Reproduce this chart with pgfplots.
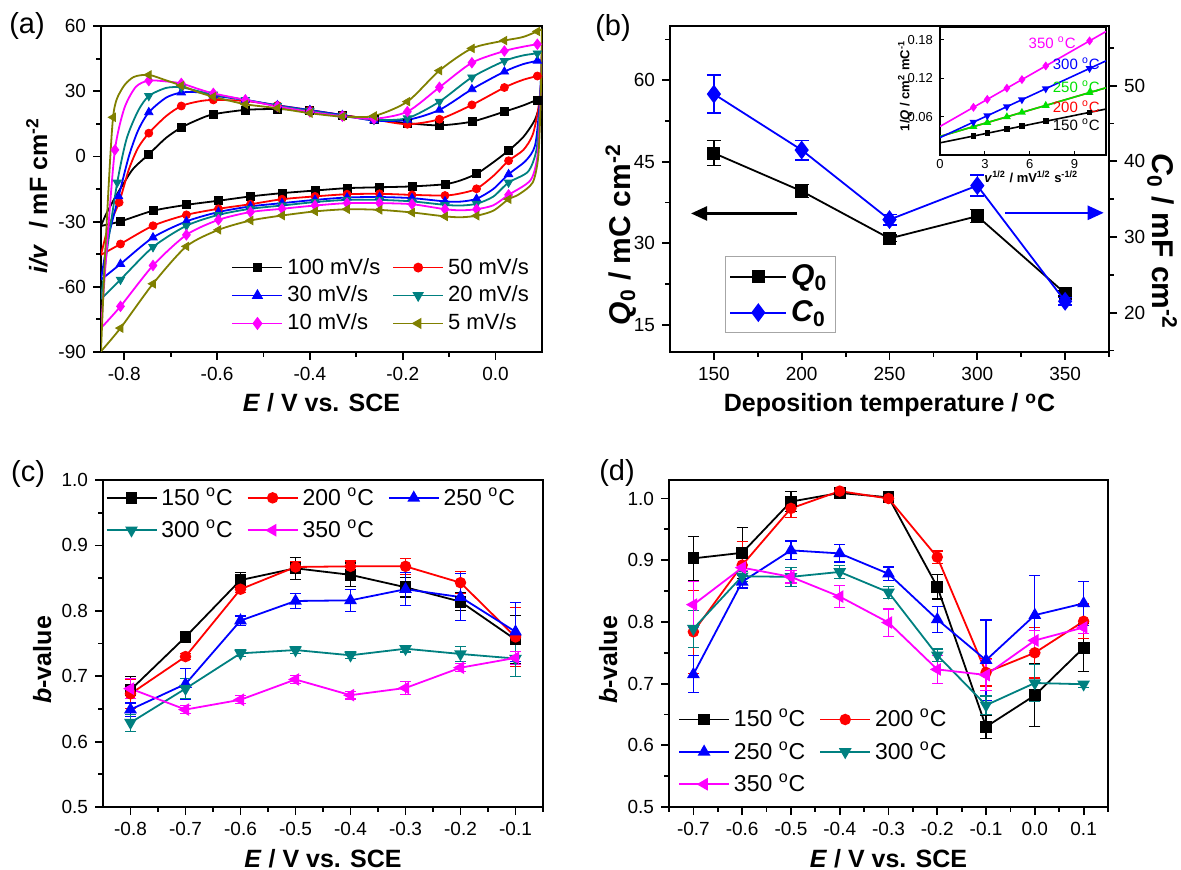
\documentclass[border=0pt]{standalone}
\usepackage{fontspec}
\setmainfont{Liberation Sans}
\usepackage{pgfplots}
\pgfplotsset{compat=1.18}
\usetikzlibrary{arrows.meta}
\definecolor{cteal}{RGB}{0,128,128}
\definecolor{colive}{RGB}{128,128,0}
\definecolor{cmag}{RGB}{255,0,255}
\definecolor{cred}{RGB}{255,0,0}
\definecolor{cblue}{RGB}{0,0,255}
\definecolor{cgreen}{RGB}{0,225,0}
\pgfplotsset{
  base/.style={scale only axis, anchor=south west,
    axis line style={line width=1.2pt},
    tick style={black, line width=0.9pt},
    tick align=outside, major tick length=4pt, minor tick length=2.4pt,
    xtick pos=left, ytick pos=left,
    tick label style={font=\fontsize{9.5}{11}\selectfont},
    /pgf/number format/assume math mode=true,
    xlabel style={font=\fontsize{12.5}{14}\selectfont\bfseries, at={(axis description cs:0.5,0)}, anchor=base, yshift=-30pt},
    ylabel style={font=\fontsize{12.5}{14}\selectfont\bfseries, anchor=base},
    legend cell align=left,
    legend image code/.code={\draw[mark repeat=2,mark phase=2,##1] plot coordinates {(0pt,0pt) (12.5pt,0pt) (25pt,0pt)};},
  },
  onedec x/.style={xticklabel style={/pgf/number format/.cd, fixed, fixed zerofill, precision=1}},
  onedec y/.style={yticklabel style={/pgf/number format/.cd, fixed, fixed zerofill, precision=1}},
  ser/.style={line width=0.9pt, mark size=2.5pt, error bars/y dir=both, error bars/y explicit, error bars/error bar style={line width=0.6pt, solid}, error bars/error mark options={rotate=90, mark size=2.8pt, line width=0.6pt}},
  cvl/.style={line width=0.9pt, smooth, tension=0.45, forget plot},
  cvm/.style={only marks, mark size=2pt, forget plot},
}
\begin{document}
\begin{tikzpicture}
\useasboundingbox (0,0) rectangle (590.5pt,-435pt);
% ================= (a) =================
\begin{axis}[base, onedec x, at={(50.5pt,-176pt)}, width=220.5pt, height=163pt,
  xmin=-0.85, xmax=0.1, ymin=-90, ymax=60,
  xtick={-0.8,-0.6,-0.4,-0.2,0}, minor xtick={-0.7,-0.5,-0.3,-0.1},
  ytick={-90,-60,-30,0,30,60}, minor ytick={-75,-45,-15,15,45},
  xlabel={\textit{E} / V vs. SCE},
  ylabel={\textit{i/v}\,\, / mF cm\textsuperscript{-2}},
  ylabel style={at={(axis description cs:-0.1224,0.48)}},
  legend columns=2,
  legend style={at={(axis description cs:0.98,0.045)}, anchor=south east, draw=none, fill=none, font=\fontsize{11}{13}\selectfont, inner sep=0pt, row sep=0.5pt, /tikz/every even column/.append style={column sep=4pt}},
]
% 100 mV/s
\addplot[black, cvl] coordinates {(-0.85,-32) (-0.84,-27) (-0.82,-19) (-0.8,-12) (-0.78,-5.5) (-0.747,1) (-0.71,8.5) (-0.677,13.3) (-0.64,17) (-0.608,19.4) (-0.539,21.4) (-0.47,21.8) (-0.4,21) (-0.33,19) (-0.262,17) (-0.19,15.3) (-0.121,14.3) (-0.051,16) (0.019,20.6) (0.06,23.5) (0.1,27)};
\addplot[black, cvl] coordinates {(0.1,27) (0.085,17) (0.06,9) (0.028,2.7) (-0.01,-3.5) (-0.041,-8) (-0.075,-11) (-0.109,-12.8) (-0.18,-13.8) (-0.25,-14.2) (-0.32,-14.6) (-0.389,-15.7) (-0.46,-16.9) (-0.528,-18.4) (-0.597,-20.4) (-0.666,-22.3) (-0.738,-25) (-0.808,-29.9) (-0.85,-32)};
\addplot[black, cvm, mark=square*] coordinates {(-0.747,1) (-0.677,13.3) (-0.608,19.4) (-0.539,21.4) (-0.47,21.8) (-0.4,21) (-0.33,19) (-0.262,17) (-0.19,15.3) (-0.121,14.3) (-0.051,16) (0.019,20.6) (0.09,26) (0.028,2.7) (-0.041,-8) (-0.109,-12.8) (-0.18,-13.8) (-0.25,-14.2) (-0.32,-14.6) (-0.389,-15.7) (-0.46,-16.9) (-0.528,-18.4) (-0.597,-20.4) (-0.666,-22.3) (-0.738,-25) (-0.808,-29.9)};
% 50 mV/s
\addplot[cred, cvl] coordinates {(-0.85,-45.3) (-0.835,-33) (-0.811,-21.2) (-0.79,-6) (-0.77,4) (-0.747,10.7) (-0.71,18.5) (-0.677,23.2) (-0.64,25.3) (-0.608,26) (-0.539,25.5) (-0.47,23.5) (-0.4,21.3) (-0.33,19) (-0.262,17) (-0.19,14.8) (-0.121,17.1) (-0.051,23.7) (0.019,31.7) (0.06,35.3) (0.1,37.5)};
\addplot[cred, cvl] coordinates {(0.1,37.5) (0.092,22) (0.08,10) (0.06,3) (0.028,-2) (-0.005,-9) (-0.041,-14.9) (-0.075,-17) (-0.109,-18) (-0.18,-17.7) (-0.25,-17.2) (-0.32,-17.4) (-0.389,-18.4) (-0.46,-19.7) (-0.528,-22) (-0.597,-24.1) (-0.666,-26.9) (-0.738,-31.9) (-0.808,-40.3) (-0.85,-45.3)};
\addplot[cred, cvm, mark=*] coordinates {(-0.811,-21.2) (-0.747,10.7) (-0.677,23.2) (-0.608,26) (-0.539,25.5) (-0.47,23.5) (-0.4,21.3) (-0.33,19) (-0.262,17) (-0.19,14.8) (-0.121,17.1) (-0.051,23.7) (0.019,31.7) (0.09,37) (0.028,-2) (-0.041,-14.9) (-0.109,-18) (-0.18,-17.7) (-0.25,-17.2) (-0.32,-17.4) (-0.389,-18.4) (-0.46,-19.7) (-0.528,-22) (-0.597,-24.1) (-0.666,-26.9) (-0.738,-31.9) (-0.808,-40.3)};
% 30 mV/s
\addplot[cblue, cvl] coordinates {(-0.85,-56.7) (-0.835,-38) (-0.812,-18.4) (-0.79,0) (-0.77,12) (-0.747,20.3) (-0.71,27) (-0.677,29.4) (-0.64,29.5) (-0.608,28) (-0.539,26) (-0.47,23.5) (-0.4,21.3) (-0.33,19) (-0.262,16.5) (-0.19,16.8) (-0.121,21.4) (-0.051,30.9) (0.019,39) (0.06,42.5) (0.1,44.4)};
\addplot[cblue, cvl] coordinates {(0.1,44.4) (0.094,22) (0.085,5) (0.065,-2) (0.028,-8.2) (-0.005,-15) (-0.041,-19.5) (-0.075,-20.8) (-0.109,-20.7) (-0.18,-19.2) (-0.25,-18.7) (-0.32,-18.9) (-0.389,-20) (-0.46,-21.5) (-0.528,-23) (-0.597,-25.6) (-0.666,-29.9) (-0.738,-37.3) (-0.808,-49.5) (-0.85,-56.7)};
\addplot[cblue, cvm, mark=triangle*, mark size=2.4pt] coordinates {(-0.812,-18.4) (-0.747,20.3) (-0.677,29.4) (-0.608,28) (-0.539,26) (-0.47,23.5) (-0.4,21.3) (-0.33,19) (-0.262,16.5) (-0.19,16.8) (-0.121,21.4) (-0.051,30.9) (0.019,39) (0.09,44) (0.028,-8.2) (-0.041,-19.5) (-0.109,-20.7) (-0.18,-19.2) (-0.25,-18.7) (-0.32,-18.9) (-0.389,-20) (-0.46,-21.5) (-0.528,-23) (-0.597,-25.6) (-0.666,-29.9) (-0.738,-37.3) (-0.808,-49.5)};
% 20 mV/s
\addplot[cteal, cvl] coordinates {(-0.85,-65.6) (-0.835,-40) (-0.815,-12) (-0.795,8) (-0.77,21) (-0.747,27.8) (-0.71,31.5) (-0.677,31.8) (-0.64,30) (-0.608,28.5) (-0.539,26) (-0.47,23.3) (-0.4,21) (-0.33,18.7) (-0.262,16.8) (-0.19,17.6) (-0.121,25.2) (-0.051,36.4) (0.019,43.9) (0.06,46.5) (0.1,47.7)};
\addplot[cteal, cvl] coordinates {(0.1,47.7) (0.095,22) (0.088,3) (0.07,-7) (0.028,-12) (-0.005,-18.5) (-0.041,-21.8) (-0.075,-22.6) (-0.109,-22.3) (-0.18,-20.7) (-0.25,-20) (-0.32,-20) (-0.389,-21) (-0.46,-22.6) (-0.528,-24.1) (-0.597,-26.9) (-0.666,-31.9) (-0.738,-41.7) (-0.808,-56.7) (-0.85,-65.6)};
\addplot[cteal, cvm, mark=triangle*, mark size=2.4pt, mark options={rotate=180}] coordinates {(-0.815,-12) (-0.747,27.8) (-0.677,31.8) (-0.608,28.5) (-0.539,26) (-0.47,23.3) (-0.4,21) (-0.33,18.7) (-0.262,16.8) (-0.19,17.6) (-0.121,25.2) (-0.051,36.4) (0.019,43.9) (0.09,47.4) (0.028,-12) (-0.041,-21.8) (-0.109,-22.3) (-0.18,-20.7) (-0.25,-20) (-0.32,-20) (-0.389,-21) (-0.46,-22.6) (-0.528,-24.1) (-0.597,-26.9) (-0.666,-31.9) (-0.738,-41.7) (-0.808,-56.7)};
% 10 mV/s
\addplot[cmag, cvl] coordinates {(-0.85,-79) (-0.835,-35) (-0.82,3) (-0.8,22) (-0.775,32) (-0.747,34.9) (-0.71,34.5) (-0.677,33.6) (-0.64,31) (-0.608,29) (-0.539,26) (-0.47,23) (-0.4,20.5) (-0.33,18.5) (-0.262,17.3) (-0.19,20.6) (-0.121,31.8) (-0.051,43.1) (0.019,48.5) (0.06,50.5) (0.1,52)};
\addplot[cmag, cvl] coordinates {(0.1,52) (0.096,22) (0.09,0) (0.075,-11) (0.028,-17.7) (-0.005,-22.5) (-0.041,-24.3) (-0.075,-24.8) (-0.109,-24.3) (-0.18,-22) (-0.25,-21.5) (-0.32,-21.5) (-0.389,-22.6) (-0.46,-24.1) (-0.528,-25.6) (-0.597,-29.2) (-0.666,-36.1) (-0.738,-50.2) (-0.808,-69) (-0.85,-79)};
\addplot[cmag, cvm, mark=diamond*, mark size=2.6pt] coordinates {(-0.82,3) (-0.747,34.9) (-0.677,33.6) (-0.608,29) (-0.539,26) (-0.47,23) (-0.4,20.5) (-0.33,18.5) (-0.262,17.3) (-0.19,20.6) (-0.121,31.8) (-0.051,43.1) (0.019,48.5) (0.09,51.6) (0.028,-17.7) (-0.041,-24.3) (-0.109,-24.3) (-0.18,-22) (-0.25,-21.5) (-0.32,-21.5) (-0.389,-22.6) (-0.46,-24.1) (-0.528,-25.6) (-0.597,-29.2) (-0.666,-36.1) (-0.738,-50.2) (-0.808,-69)};
% 5 mV/s
\addplot[colive, cvl] coordinates {(-0.85,-89.7) (-0.84,-40) (-0.824,18) (-0.805,31) (-0.78,36.5) (-0.747,37.5) (-0.71,35) (-0.677,32.6) (-0.64,29.5) (-0.608,27.5) (-0.539,24) (-0.47,22.2) (-0.4,19.9) (-0.33,18.3) (-0.262,18.6) (-0.19,25.2) (-0.121,39.5) (-0.051,49.7) (0.019,53.3) (0.06,55) (0.1,58.5)};
\addplot[colive, cvl] coordinates {(0.1,58.5) (0.097,25) (0.092,0) (0.08,-12) (0.05,-17.5) (0.028,-19.7) (-0.005,-25) (-0.041,-27.3) (-0.075,-28) (-0.109,-27.6) (-0.18,-25.8) (-0.25,-24.6) (-0.32,-24.3) (-0.389,-25.3) (-0.46,-27.2) (-0.528,-29.5) (-0.597,-33.8) (-0.666,-41.4) (-0.738,-58.6) (-0.808,-79) (-0.85,-89.7)};
\addplot[colive, cvm, mark=triangle*, mark size=2.4pt, mark options={rotate=90}] coordinates {(-0.824,18) (-0.747,37.5) (-0.677,32.6) (-0.608,27.5) (-0.539,24) (-0.47,22.2) (-0.4,19.9) (-0.33,18.3) (-0.262,18.6) (-0.19,25.2) (-0.121,39.5) (-0.051,49.7) (0.019,53.3) (0.09,57.5) (0.028,-19.7) (-0.041,-27.3) (-0.109,-27.6) (-0.18,-25.8) (-0.25,-24.6) (-0.32,-24.3) (-0.389,-25.3) (-0.46,-27.2) (-0.528,-29.5) (-0.597,-33.8) (-0.666,-41.4) (-0.738,-58.6) (-0.808,-79)};
\addlegendimage{black, line width=0.9pt, mark=square*, mark size=2pt}
\addlegendimage{cred, line width=0.9pt, mark=*, mark size=2pt}
\addlegendimage{cblue, line width=0.9pt, mark=triangle*, mark size=2.4pt}
\addlegendimage{cteal, line width=0.9pt, mark=triangle*, mark size=2.4pt, mark options={rotate=180}}
\addlegendimage{cmag, line width=0.9pt, mark=diamond*, mark size=2.6pt}
\addlegendimage{colive, line width=0.9pt, mark=triangle*, mark size=2.4pt, mark options={rotate=90}}
\legend{100 mV/s, 50 mV/s, 30 mV/s, 20 mV/s, 10 mV/s, 5 mV/s}
\end{axis}
% ================= (b) left axis =================
\begin{axis}[base, at={(335pt,-176pt)}, width=219.5pt, height=163pt,
  xmin=125, xmax=375, ymin=10, ymax=70,
  xtick={150,200,250,300,350}, minor xtick={175,225,275,325,375},
  ytick={15,30,45,60}, minor ytick={22.5,37.5,52.5,67.5},
  xlabel={Deposition temperature / \textsuperscript{o}C},
  ylabel={\textit{Q}\textsubscript{0} / mC cm\textsuperscript{-2}},
  ylabel style={font=\fontsize{15}{17}\selectfont\bfseries, at={(axis description cs:-0.09,0.36)}},
]
\addplot[black, line width=0.9pt, mark=square*, mark size=2.8pt, forget plot,
  error bars/.cd, y dir=both, y explicit, error bar style={line width=0.7pt}, error mark options={rotate=90, mark size=3.5pt, line width=0.7pt}]
  coordinates {(150,46.6) +- (0,2.3) (200,39.6) +- (0,1.2) (250,30.9) +- (0,0.6) (300,35.0) +- (0,1.2) (350,20.8) +- (0,0.5)};
\draw[black, line width=1.2pt, -{Triangle[length=8pt,width=7pt]}] (axis cs:197.6,35.5) -- (axis cs:137,35.5);
\end{axis}
% ================= (b) right axis =================
\begin{axis}[base, at={(335pt,-176pt)}, width=219.5pt, height=163pt,
  xmin=125, xmax=375, ymin=14.8, ymax=57.9,
  axis x line=none, axis y line*=right, ytick pos=right, tick align=outside,
  ytick={20,30,40,50}, minor ytick={15,25,35,45,55},
  ylabel={\textit{C}\textsubscript{0} / mF cm\textsuperscript{-2}},
  ylabel style={font=\fontsize{15}{17}\selectfont\bfseries, at={(axis description cs:1.098,0.34)}, rotate=180},
  legend style={at={(axis description cs:0.125,0.058)}, anchor=south west, draw=black!35, line width=0.5pt, fill=white, font=\fontsize{15}{17}\selectfont\bfseries, inner sep=2pt, row sep=2pt},
  legend image code/.code={\draw[mark repeat=2,mark phase=2,#1] plot coordinates {(0pt,0pt) (14pt,0pt) (28pt,0pt)};},
]
\addlegendimage{black, line width=0.9pt, mark=square*, mark size=2.8pt}
\addlegendentry{\textit{Q}\textsubscript{0}}
\addplot[cblue, line width=0.9pt, mark=diamond*, mark size=4pt,
  error bars/.cd, y dir=both, y explicit, error bar style={line width=0.7pt}, error mark options={rotate=90, mark size=3.5pt, line width=0.7pt}]
  coordinates {(150,48.9) +- (0,2.5) (200,41.5) +- (0,1.3) (250,32.3) +- (0,0.7) (300,36.8) +- (0,1.4) (350,21.5) +- (0,0.5)};
\addlegendentry{\textit{C}\textsubscript{0}}
\draw[cblue, line width=1.2pt, -{Triangle[length=8pt,width=7pt]}] (axis cs:316,33.2) -- (axis cs:372,33.2);
\end{axis}
% ================= (b) inset =================
\begin{axis}[scale only axis, anchor=south west, at={(470pt,-77.5pt)}, width=83pt, height=64pt,
  xmin=0, xmax=11.1, ymin=0, ymax=0.2,
  xtick={0,3,6,9}, ytick={0.06,0.12,0.18},
  axis background/.style={fill=white},
  axis line style={line width=0.9pt}, tick style={black, line width=0.6pt},
  tick align=inside, major tick length=2pt, xtick pos=left, ytick pos=left,
  tick label style={font=\fontsize{6.5}{7.5}\selectfont},
  xticklabel style={yshift=1.5pt},
  /pgf/number format/assume math mode=true,
  yticklabel style={/pgf/number format/.cd, fixed, fixed zerofill, precision=2},
  xlabel={\textit{v}\textsuperscript{1/2} / mV\textsuperscript{1/2} s\textsuperscript{-1/2}},
  ylabel={1/\textit{Q} / cm\textsuperscript{2} mC\textsuperscript{-1}},
  xlabel style={font=\fontsize{6.5}{7.5}\selectfont\bfseries, at={(axis description cs:0.55,0)}, anchor=base, yshift=-14pt},
  ylabel style={font=\fontsize{6.5}{7}\selectfont\bfseries, at={(axis description cs:-0.185,0.54)}, anchor=base},
]
\addplot[cred, line width=0.8pt, no markers] coordinates {(0,0.029) (11.1,0.105)};
\addplot[cgreen, line width=0.8pt, mark=triangle*, mark size=1.5pt, mark indices={2,3,4,5,6,7}] coordinates {(0,0.029) (2.236,0.0443) (3.162,0.0507) (4.472,0.0596) (5.477,0.0665) (7.071,0.0774) (10,0.0975) (11.1,0.105)};
\addplot[black, line width=0.8pt, mark=square*, mark size=1pt, mark indices={2,3,4,5,6,7}] coordinates {(0,0.019) (2.236,0.0296) (3.162,0.034) (4.472,0.0403) (5.477,0.0451) (7.071,0.0527) (10,0.0666) (11.1,0.0718)};
\addplot[cblue, line width=0.8pt, mark=triangle*, mark size=1.5pt, mark options={rotate=180}, mark indices={2,3,4,5,6,7}] coordinates {(0,0.0272) (2.236,0.0514) (3.162,0.0613) (4.472,0.0755) (5.477,0.0864) (7.071,0.1036) (10,0.1352) (11.1,0.1471)};
\addplot[cmag, line width=0.8pt, mark=diamond*, mark size=1.6pt, mark indices={2,3,4,5,6,7}] coordinates {(0,0.0446) (2.236,0.0745) (3.162,0.0869) (4.472,0.1044) (5.477,0.1178) (7.071,0.1391) (10,0.1783) (11.1,0.193)};
\node[cmag, font=\fontsize{7.5}{8}\selectfont] at (axis cs:7.5,0.176) {350 \textsuperscript{o}C};
\node[cblue, font=\fontsize{7.5}{8}\selectfont, anchor=east] at (axis cs:11.15,0.143) {300 \textsuperscript{o}C};
\node[cgreen, font=\fontsize{7.5}{8}\selectfont, anchor=east] at (axis cs:11.15,0.107) {250 \textsuperscript{o}C};
\node[cred, font=\fontsize{7.5}{8}\selectfont, anchor=east] at (axis cs:11.15,0.075) {200 \textsuperscript{o}C};
\node[black, font=\fontsize{7.5}{8}\selectfont, anchor=east] at (axis cs:11.15,0.047) {150 \textsuperscript{o}C};
\end{axis}
% ================= (c) =================
\begin{axis}[base, onedec x, onedec y, at={(51.5pt,-403.5pt)}, width=220pt, height=163.5pt,
  xmin=-0.85, xmax=-0.05, ymin=0.5, ymax=1.0,
  xtick={-0.8,-0.7,-0.6,-0.5,-0.4,-0.3,-0.2,-0.1}, minor xtick={-0.75,-0.65,-0.55,-0.45,-0.35,-0.25,-0.15,-0.05},
  ytick={0.5,0.6,0.7,0.8,0.9,1.0}, minor ytick={0.55,0.65,0.75,0.85,0.95},
  xlabel={\textit{E} / V vs. SCE}, ylabel={\textit{b}-value},
  ylabel style={at={(axis description cs:-0.118,0.45)}},
  legend columns=3,
  legend style={at={(axis description cs:0.005,0.99)}, anchor=north west, draw=none, fill=none, font=\fontsize{11.5}{14}\selectfont, inner sep=0pt, row sep=2pt, /tikz/every even column/.append style={column sep=5pt}},
]
\addplot[black, mark=square*, ser] coordinates {(-0.8,0.679) +- (0,0.02) (-0.7,0.760) +- (0,0.007) (-0.6,0.847) +- (0,0.011) (-0.5,0.865) +- (0,0.017) (-0.4,0.855) +- (0,0.018) (-0.3,0.836) +- (0,0.015) (-0.2,0.814) +- (0,0.014) (-0.1,0.756) +- (0,0.037)};
\addlegendentry{150 \textsuperscript{o}C}
\addplot[cred, mark=*, ser, mark size=2.4pt] coordinates {(-0.8,0.673) +- (0,0.022) (-0.7,0.730) +- (0,0.005) (-0.6,0.833) +- (0,0.005) (-0.5,0.867) +- (0,0.008) (-0.4,0.868) +- (0,0.008) (-0.3,0.868) +- (0,0.012) (-0.2,0.843) +- (0,0.017) (-0.1,0.760) +- (0,0.045)};
\addlegendentry{200 \textsuperscript{o}C}
\addplot[cblue, mark=triangle*, ser, mark size=2.8pt] coordinates {(-0.8,0.649) +- (0,0.01) (-0.7,0.688) +- (0,0.024) (-0.6,0.785) +- (0,0.007) (-0.5,0.815) +- (0,0.011) (-0.4,0.816) +- (0,0.017) (-0.3,0.833) +- (0,0.025) (-0.2,0.821) +- (0,0.036) (-0.1,0.768) +- (0,0.045)};
\addlegendentry{250 \textsuperscript{o}C}
\addplot[cteal, mark=triangle*, ser, mark size=2.8pt, mark options={rotate=180}] coordinates {(-0.8,0.629) +- (0,0.013) (-0.7,0.681) +- (0,0.015) (-0.6,0.735) +- (0,0.005) (-0.5,0.740) +- (0,0.005) (-0.4,0.732) +- (0,0.005) (-0.3,0.742) +- (0,0.005) (-0.2,0.734) +- (0,0.012) (-0.1,0.727) +- (0,0.028)};
\addlegendentry{300 \textsuperscript{o}C}
\addplot[cmag, mark=triangle*, ser, mark size=2.8pt, mark options={rotate=90}] coordinates {(-0.8,0.681) +- (0,0.015) (-0.7,0.649) +- (0,0.006) (-0.6,0.664) +- (0,0.006) (-0.5,0.695) +- (0,0.006) (-0.4,0.671) +- (0,0.006) (-0.3,0.682) +- (0,0.01) (-0.2,0.713) +- (0,0.006) (-0.1,0.728) +- (0,0.01)};
\addlegendentry{350 \textsuperscript{o}C}
\end{axis}
% ================= (d) =================
\begin{axis}[base, onedec x, onedec y, at={(334.5pt,-403.5pt)}, width=219.5pt, height=163.5pt,
  xmin=-0.75, xmax=0.15, ymin=0.5, ymax=1.03,
  xtick={-0.7,-0.6,-0.5,-0.4,-0.3,-0.2,-0.1,0,0.1}, minor xtick={-0.75,-0.65,-0.55,-0.45,-0.35,-0.25,-0.15,-0.05,0.05,0.15},
  ytick={0.5,0.6,0.7,0.8,0.9,1.0}, minor ytick={0.55,0.65,0.75,0.85,0.95},
  xlabel={\textit{E} / V vs. SCE}, ylabel={\textit{b}-value},
  ylabel style={at={(axis description cs:-0.118,0.45)}},
  legend columns=2,
  legend style={at={(axis description cs:0.02,0.025)}, anchor=south west, draw=none, fill=none, font=\fontsize{11.5}{14}\selectfont, inner sep=0pt, row sep=2pt, /tikz/every even column/.append style={column sep=5pt}},
]
\addplot[black, mark=square*, ser] coordinates {(-0.7,0.903) +- (0,0.036) (-0.6,0.912) +- (0,0.041) (-0.5,0.995) +- (0,0.016) (-0.4,1.009) +- (0,0.005) (-0.3,1.002) +- (0,0.005) (-0.2,0.857) +- (0,0.02) (-0.1,0.630) +- (0,0.019) (0.0,0.681) +- (0,0.051) (0.1,0.758) +- (0,0.039)};
\addlegendentry{150 \textsuperscript{o}C}
\addplot[cred, mark=*, ser, mark size=2.4pt] coordinates {(-0.7,0.784) +- (0,0.067) (-0.6,0.892) +- (0,0.038) (-0.5,0.984) +- (0,0.015) (-0.4,1.012) +- (0,0.004) (-0.3,1.0) +- (0,0.007) (-0.2,0.905) +- (0,0.01) (-0.1,0.718) +- (0,0.022) (0.0,0.750) +- (0,0.041) (0.1,0.801) +- (0,0.028)};
\addlegendentry{200 \textsuperscript{o}C}
\addplot[cblue, mark=triangle*, ser, mark size=2.8pt] coordinates {(-0.7,0.715) +- (0,0.03) (-0.6,0.865) +- (0,0.01) (-0.5,0.916) +- (0,0.015) (-0.4,0.911) +- (0,0.014) (-0.3,0.878) +- (0,0.011) (-0.2,0.804) +- (0,0.021) (-0.1,0.738) +- (0,0.065) (0.0,0.811) +- (0,0.064) (0.1,0.830) +- (0,0.036)};
\addlegendentry{250 \textsuperscript{o}C}
\addplot[cteal, mark=triangle*, ser, mark size=2.8pt, mark options={rotate=180}] coordinates {(-0.7,0.789) +- (0,0.03) (-0.6,0.874) +- (0,0.008) (-0.5,0.873) +- (0,0.015) (-0.4,0.881) +- (0,0.01) (-0.3,0.848) +- (0,0.01) (-0.2,0.746) +- (0,0.01) (-0.1,0.665) +- (0,0.015) (0.0,0.701) +- (0,0.03) (0.1,0.699) +- (0,0.005)};
\addlegendentry{300 \textsuperscript{o}C}
\addplot[cmag, mark=triangle*, ser, mark size=2.8pt, mark options={rotate=90}] coordinates {(-0.7,0.828) +- (0,0.037) (-0.6,0.888) +- (0,0.005) (-0.5,0.873) +- (0,0.01) (-0.4,0.841) +- (0,0.018) (-0.3,0.799) +- (0,0.022) (-0.2,0.723) +- (0,0.023) (-0.1,0.714) +- (0,0.025) (0.0,0.770) +- (0,0.016) (0.1,0.791) +- (0,0.01)};
\addlegendentry{350 \textsuperscript{o}C}
\end{axis}
% panel labels
\node[font=\fontsize{14.5}{16}\selectfont] at (13.5pt,-13pt) {(a)};
\node[font=\fontsize{14.5}{16}\selectfont] at (306.5pt,-14pt) {(b)};
\node[font=\fontsize{14.5}{16}\selectfont] at (14pt,-237pt) {(c)};
\node[font=\fontsize{14.5}{16}\selectfont] at (308.5pt,-236.5pt) {(d)};
\end{tikzpicture}
\end{document}
